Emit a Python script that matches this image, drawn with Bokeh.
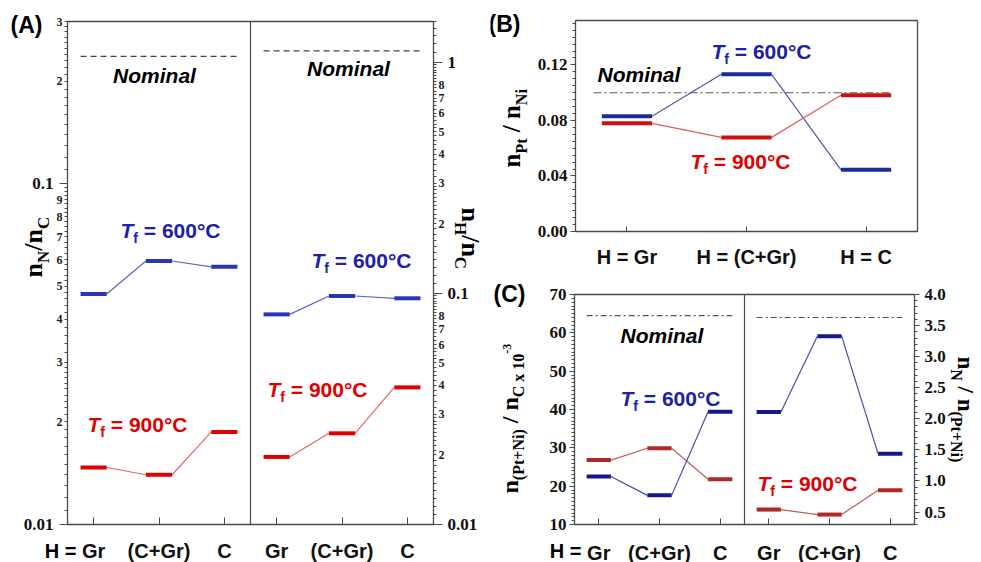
import math
from bokeh.plotting import figure
from bokeh.models import (Range1d, LinearAxis, LogAxis, LogScale, FixedTicker,
                          SingleIntervalTicker, Label, LabelSet,
                          ColumnDataSource, PrintfTickFormatter)
from bokeh.core.properties import value
from bokeh.layouts import row, column
from bokeh.embed import file_html
from bokeh.resources import INLINE

SANS = "Liberation Sans"
SERIF = "Liberation Serif"
FRAME = "#4a4a4a"
BLUE_TXT = "#1c22a8"
RED_TXT = "#e00000"

# ---------------- data ----------------
hosts = ["Gr", "(C+Gr)", "C"]
hosts_long = ["H = Gr", "H = (C+Gr)", "H = C"]

# (A) atomic ratios, log scales
nN_nC_600 = [0.0475, 0.0594, 0.0571]
nN_nC_900 = [0.0147, 0.0140, 0.0187]
nN_nC_nominal = 0.237
nH_nC_600 = [0.0811, 0.0974, 0.0952]
nH_nC_900 = [0.0196, 0.0248, 0.0392]
nH_nC_nominal = 1.12

# (B) Pt / Ni ratio
nPt_nNi_600 = [0.0830, 0.1132, 0.0444]
nPt_nNi_900 = [0.0779, 0.0678, 0.0982]
nPt_nNi_nominal = 0.100

# (C) metal / C (x 1e-3) and N / metal
nM_nC_600 = [22.5, 17.6, 39.4]
nM_nC_900 = [26.8, 29.9, 21.8]
nM_nC_nominal = 64.5
nN_nM_600 = [2.11, 3.33, 1.44]
nN_nM_900 = [0.54, 0.46, 0.85]
nN_nM_nominal = 3.63

# axis ranges of the plotting boxes
A_x = (0.6, 6.2)
A_left_range = (0.01, 0.3)
A_right_range = (0.01, 1.5)
B_x = (0.57, 3.43)
B_range = (0.0, 0.152)
C_x = (0.6, 6.2)
C_left_range = (10, 70)
C_right_range = (0.3, 4.0)

# mantissa labels on the log axes
A_left_digits = [0.02, 0.03, 0.04, 0.05, 0.06, 0.07, 0.08, 0.09, 0.2, 0.3]
A_right_digits = [0.02, 0.03, 0.04, 0.05, 0.06, 0.07, 0.08,
                  0.2, 0.3, 0.4, 0.5, 0.6, 0.7, 0.8]

# category positions: two sub-panels share one box
left_pos = [1.0, 2.0, 3.0]
shift = 2.8
right_pos = [x + shift for x in left_pos]
divider = 3.4
HW = 0.2

# approximate glyph advances (em) used to compose sub/superscripts
W_SERIF = {' ': 0.25, '(': 0.333, ')': 0.333, '+': 0.570, '-': 0.333, '/': 0.278,
           'C': 0.722, 'H': 0.778, 'N': 0.722, 'P': 0.611, 'i': 0.278, 'n': 0.556,
           't': 0.333, 'x': 0.5}
W_SANS = {' ': 0.278, '=': 0.584, '°': 0.4, 'C': 0.722, 'T': 0.611, 'f': 0.333}

BASELINE_FIX = 0.45  # lifts alphabetic-baseline labels onto their baseline


def advance(text, size, font):
    if font == SERIF:
        return sum(W_SERIF.get(ch, 0.5) for ch in text) * size
    return sum(W_SANS.get(ch, 0.556) for ch in text) * size


def ext_lin(lo, hi, m_lo, length, m_hi):
    k = (hi - lo) / length
    return lo - m_lo * k, hi + m_hi * k


def ext_log(lo, hi, m_lo, length, m_hi):
    a, b = math.log10(lo), math.log10(hi)
    k = (b - a) / length
    return 10 ** (a - m_lo * k), 10 ** (b + m_hi * k)


class Canvas:
    """Places text by page pixel, anchored at the figure's lower-left corner."""

    def __init__(self, p, ox, oy):
        self.p = p
        self.fx = ox
        self.fy = oy + p.height

    def text(self, x, y, s, size, font=SANS, style="bold", color="black",
             align="left", angle=0.0):
        x += -math.sin(angle) * BASELINE_FIX * size
        y += -math.cos(angle) * BASELINE_FIX * size
        self.p.add_layout(Label(
            x=self.p.x_range.start, y=self.p.y_range.start,
            x_offset=x - self.fx, y_offset=self.fy - y, text=s,
            text_font=font, text_font_size=f"{size}px", text_font_style=style,
            text_color=color, text_align=align, text_baseline="alphabetic",
            angle=angle))

    def rich(self, x, y, pieces, angle=0.0, color="black"):
        ax, ay = math.cos(angle), -math.sin(angle)
        ux, uy = -math.sin(angle), -math.cos(angle)
        d = 0.0
        for s, size, font, style, dy in pieces:
            lead = len(s) - len(s.lstrip(" "))
            d += advance(" " * lead, size, font)
            s = s.lstrip(" ")
            px = x + ax * d + ux * dy
            py = y + ay * d + uy * dy
            self.text(px, py, s, size, font, style, color, angle=angle)
            d += advance(s, size, font)


def tf_label(cv, x, y, temp, color):
    cv.rich(x, y, [("T", 21, SANS, "bold italic", 0),
                   ("f", 14, SANS, "bold", -5),
                   (f" = {temp}°C", 21, SANS, "bold", 0)], color=color)


def levels(p, xs, vals, color, thin_color, hw=HW, rn="default"):
    x0 = [x - hw for x in xs]
    x1 = [x + hw for x in xs]
    p.segment(x0=x1[:-1], y0=vals[:-1], x1=x0[1:], y1=vals[1:],
              line_color=thin_color, line_width=1.2, y_range_name=rn)
    p.segment(x0=x0, y0=vals, x1=x1, y1=vals, line_color=color,
              line_width=4, line_cap="butt", y_range_name=rn)


def log_fine_ticks(lo, hi):
    out = []
    decade = 10.0 ** math.floor(math.log10(lo) + 1e-9)
    while decade < hi:
        m = 1.0
        while m < 10 - 1e-9:
            v = round(m * decade, 6)
            if lo - 1e-12 <= v <= hi + 1e-12:
                out.append(v)
            step = 0.1 if m < 3 - 1e-9 else (0.2 if m < 6 - 1e-9 else 0.25)
            m = round(m + step, 4)
        decade *= 10
    return out


def new_fig(w, h, xr, yr, log=False):
    p = figure(width=w, height=h, x_range=Range1d(*xr), y_range=Range1d(*yr),
               y_axis_type="log" if log else "linear",
               x_axis_location=None, y_axis_location=None,
               output_backend="svg", toolbar_location=None, title=None,
               min_border=0, min_border_left=0, min_border_right=0,
               min_border_top=0, min_border_bottom=0)
    p.outline_line_color = None
    p.xgrid.visible = False
    p.ygrid.visible = False
    p.background_fill_color = "white"
    p.border_fill_color = "white"
    return p


def box(p, x, y):
    p.quad(left=[x[0]], right=[x[1]], bottom=[y[0]], top=[y[1]],
           fill_color=None, line_color=FRAME, line_width=1.3)


def style_yaxis(ax, size=17, tick_out=5, standoff=4, minor_out=3):
    ax.axis_line_color = None
    ax.major_tick_line_color = FRAME
    ax.minor_tick_line_color = FRAME
    ax.major_tick_in = 0
    ax.major_tick_out = tick_out
    ax.minor_tick_in = 0
    ax.minor_tick_out = minor_out
    ax.major_label_text_font = SERIF
    ax.major_label_text_font_style = "bold"
    ax.major_label_text_font_size = f"{size}px"
    ax.major_label_text_color = "#111111"
    ax.major_label_standoff = standoff


def style_xaxis(ax, ticks, labels, tick_in, standoff):
    ax.ticker = FixedTicker(ticks=ticks)
    ax.major_label_overrides = {t: s for t, s in zip(ticks, labels)}
    ax.axis_line_color = None
    ax.major_tick_line_color = FRAME
    ax.major_tick_in = tick_in
    ax.major_tick_out = 0
    ax.minor_tick_line_color = None
    ax.major_label_text_font = SANS
    ax.major_label_text_font_style = "bold"
    ax.major_label_text_font_size = "20px"
    ax.major_label_text_color = "#111111"
    ax.major_label_standoff = standoff


def digit_labels(p, vals, xv, side, rn="default"):
    src = ColumnDataSource(dict(
        x=[xv] * len(vals), y=vals,
        t=[str(int(round(v / 10 ** math.floor(math.log10(v) + 1e-9)))) for v in vals]))
    p.add_layout(LabelSet(x="x", y="y", text="t", source=src,
                          x_offset=-5 if side == "left" else 5,
                          text_align="right" if side == "left" else "left",
                          text_baseline="middle", text_font=value(SERIF),
                          text_font_size="12px", text_font_style="bold",
                          text_color="#222222", y_range_name=rn))


# ================= panel A =================
pA = new_fig(490, 562, ext_lin(*A_x, 67, 366, 57),
             ext_log(*A_left_range, 38, 503, 21), log=True)
pA.extra_y_ranges = {"r": Range1d(*ext_log(*A_right_range, 38, 503, 21))}
pA.extra_y_scales = {"r": LogScale()}

axA = LogAxis(fixed_location=A_x[0], bounds=A_left_range)
axA.ticker = FixedTicker(ticks=[0.01, 0.1], minor_ticks=log_fine_ticks(*A_left_range))
axA.major_label_overrides = {0.01: "0.01", 0.1: "0.1"}
style_yaxis(axA, size=17, tick_out=8, standoff=6)
pA.add_layout(axA, "left")

axAr = LogAxis(y_range_name="r", fixed_location=A_x[1], bounds=A_right_range)
axAr.ticker = FixedTicker(ticks=[0.01, 0.1, 1.0], minor_ticks=log_fine_ticks(*A_right_range))
axAr.major_label_overrides = {0.01: "0.01", 0.1: "0.1", 1.0: "1"}
style_yaxis(axAr, size=17, tick_out=9, standoff=5)
pA.add_layout(axAr, "right")

axAx = LinearAxis(fixed_location=A_left_range[0], bounds=A_x)
style_xaxis(axAx, left_pos + right_pos, hosts + hosts, tick_in=7, standoff=15)
pA.add_layout(axAx, "below")

box(pA, A_x, A_left_range)
pA.segment(x0=[divider], y0=[A_left_range[0]], x1=[divider], y1=[A_left_range[1]],
           line_color=FRAME, line_width=1.2)

pA.line([left_pos[0] - HW, left_pos[-1] + HW], [nN_nC_nominal] * 2,
        line_color="#444444", line_width=1.1, line_dash="6 4")
pA.line([right_pos[0] - HW, right_pos[-1] + HW], [nH_nC_nominal] * 2,
        line_color="#444444", line_width=1.1, line_dash="6 4", y_range_name="r")

levels(pA, left_pos, nN_nC_600, "#2a35b0", "#5b64c4")
levels(pA, left_pos, nN_nC_900, "#e00000", "#e06a6a")
levels(pA, right_pos, nH_nC_600, "#2a35b0", "#5b64c4", rn="r")
levels(pA, right_pos, nH_nC_900, "#e00000", "#e06a6a", rn="r")

digit_labels(pA, A_left_digits, A_x[0], "left")
digit_labels(pA, A_right_digits, A_x[1], "right", rn="r")

cA = Canvas(pA, 0, 0)
cA.text(10, 35, "(A)", 23)
cA.text(154, 84, "Nominal", 21, style="bold italic", align="center")
cA.text(348, 77, "Nominal", 21, style="bold italic", align="center")
tf_label(cA, 120, 239, 600, BLUE_TXT)
tf_label(cA, 311, 269, 600, BLUE_TXT)
tf_label(cA, 87, 433, 900, RED_TXT)
tf_label(cA, 267, 398, 900, RED_TXT)
cA.text(76, 559, "H =", 20, align="right")
cA.rich(45, 277, [("n", 26, SERIF, "bold", 0), ("N", 17, SERIF, "bold", -6),
                  ("/", 26, SERIF, "bold", 0), ("n", 26, SERIF, "bold", 0),
                  ("C", 17, SERIF, "bold", -6)], angle=math.pi / 2)
cA.rich(458, 207, [("n", 26, SERIF, "bold", 0), ("H", 17, SERIF, "bold", -6),
                   ("/", 26, SERIF, "bold", 0), ("n", 26, SERIF, "bold", 0),
                   ("C", 17, SERIF, "bold", -6)], angle=-math.pi / 2)

# ================= panel B =================
pB = new_fig(491, 270, ext_lin(*B_x, 85, 342, 64), ext_lin(*B_range, 39, 211, 20))

axB = LinearAxis(fixed_location=B_x[0], bounds=B_range)
axB.ticker = SingleIntervalTicker(interval=0.04, num_minor_ticks=8)
axB.formatter = PrintfTickFormatter(format="%.2f")
style_yaxis(axB, size=17, tick_out=5, standoff=3)
pB.add_layout(axB, "left")

axBx = LinearAxis(fixed_location=B_range[0], bounds=B_x)
style_xaxis(axBx, left_pos, hosts_long, tick_in=5, standoff=14)
pB.add_layout(axBx, "below")
box(pB, B_x, B_range)

pB.line([0.72, 3.2], [nPt_nNi_nominal] * 2, line_color="#555555",
        line_width=1.1, line_dash="8 3 2 3")
levels(pB, left_pos, nPt_nNi_600, "#1f2a9a", "#5058b0", hw=0.21)
levels(pB, left_pos, nPt_nNi_900, "#d01010", "#d86060", hw=0.21)

cB = Canvas(pB, 490, 0)
cB.text(488, 34, "(B)", 23)
cB.text(597, 83, "Nominal", 21, style="bold italic")
tf_label(cB, 711, 60, 600, BLUE_TXT)
tf_label(cB, 690, 170, 900, RED_TXT)
cB.rich(522, 167, [("n", 25, SERIF, "bold", 0), ("Pt", 16, SERIF, "bold", -6),
                   (" / ", 25, SERIF, "bold", 0), ("n", 25, SERIF, "bold", 0),
                   ("Ni", 16, SERIF, "bold", -6)], angle=math.pi / 2)

# ================= panel C =================
pC = new_fig(491, 292, ext_lin(*C_x, 84, 340, 67), ext_lin(*C_left_range, 38, 230, 24))
pC.extra_y_ranges = {"r": Range1d(*ext_lin(*C_right_range, 38, 230, 24))}

axC = LinearAxis(fixed_location=C_x[0], bounds=C_left_range)
axC.ticker = SingleIntervalTicker(interval=10, num_minor_ticks=10)
style_yaxis(axC, size=17, tick_out=5, standoff=3)
pC.add_layout(axC, "left")

axCr = LinearAxis(y_range_name="r", fixed_location=C_x[1], bounds=C_right_range)
axCr.ticker = SingleIntervalTicker(interval=0.5, num_minor_ticks=5)
axCr.formatter = PrintfTickFormatter(format="%.1f")
style_yaxis(axCr, size=17, tick_out=5, standoff=5)
pC.add_layout(axCr, "right")

axCx = LinearAxis(fixed_location=C_left_range[0], bounds=C_x)
style_xaxis(axCx, left_pos + right_pos, hosts + hosts, tick_in=6, standoff=17)
pC.add_layout(axCx, "below")

box(pC, C_x, C_left_range)
pC.segment(x0=[divider], y0=[C_left_range[0]], x1=[divider], y1=[C_left_range[1]],
           line_color=FRAME, line_width=1.2)
pC.line([left_pos[0] - HW, left_pos[-1] + HW], [nM_nC_nominal] * 2,
        line_color="#555555", line_width=1.1, line_dash="6 3 2 3")
pC.line([right_pos[0] - HW, right_pos[-1] + HW], [nN_nM_nominal] * 2,
        line_color="#555555", line_width=1.1, line_dash="6 3 2 3", y_range_name="r")

levels(pC, left_pos, nM_nC_900, "#b02828", "#b86060")
levels(pC, left_pos, nM_nC_600, "#14188c", "#4a4e9e")
levels(pC, right_pos, nN_nM_900, "#b02828", "#b86060", rn="r")
levels(pC, right_pos, nN_nM_600, "#14188c", "#4a4e9e", rn="r")

cC = Canvas(pC, 490, 270)
cC.text(493, 304, "(C)", 23)
cC.text(620, 344, "Nominal", 21, style="bold italic")
tf_label(cC, 620, 407, 600, BLUE_TXT)
tf_label(cC, 757, 492, 900, RED_TXT)
cC.text(581, 559, "H =", 20, align="right")
cC.rich(520, 493, [("n", 24, SERIF, "bold", 0), ("(Pt+Ni)", 16, SERIF, "bold", -5),
                   (" / ", 24, SERIF, "bold", 0), ("n", 24, SERIF, "bold", 0),
                   ("C x 10", 16, SERIF, "bold", -5), ("-3", 12, SERIF, "bold", 8)],
        angle=math.pi / 2)
cC.rich(955, 356, [("n", 23, SERIF, "bold", 0), ("N", 16, SERIF, "bold", -6),
                   (" / ", 23, SERIF, "bold", 0), ("n", 23, SERIF, "bold", 0),
                   ("(Pt+Ni)", 16, SERIF, "bold", -6)], angle=-math.pi / 2)

layout = row(pA, column(pB, pC))
open("out.html", "w").write(file_html(layout, INLINE))
